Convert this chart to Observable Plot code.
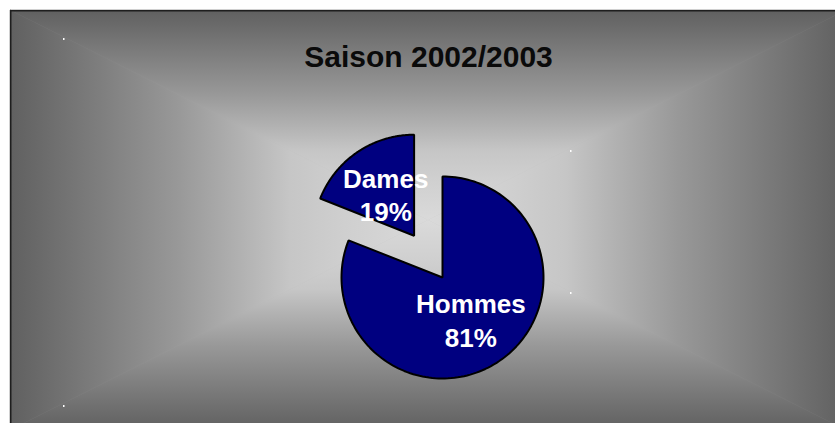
<!DOCTYPE html>
<html>
<head>
<meta charset="utf-8">
<script src="https://cdn.jsdelivr.net/npm/d3@7"></script>
<script src="https://cdn.jsdelivr.net/npm/@observablehq/plot@0.6"></script>
<style>
  html, body { margin: 0; padding: 0; background: #ffffff; }
  #chart { width: 835px; height: 423px; overflow: hidden; }
</style>
</head>
<body>
<div id="chart"></div>
<script>
// ---- data ----
const title = "Saison 2002/2003";
const categories = ["Hommes", "Dames"];
const values = [81, 19];
const explodedCategory = "Dames";

// ---- layout ----
const W = 835, H = 423;
const cx = 442, cy = 277, R = 101;   // pie centre and radius in pixels
const explodeDist = 0.5;             // in radii
const labelDist = 0.5;               // in radii
const frame = {x0: 10, y0: 10, x1: 846, y1: 430, gx: 428, gy: 220};

const total = d3.sum(values);
const rows = categories.map((c, i) => ({category: c, value: values[i]}));
const arcs = d3.pie().sort(null).value(d => d.value)(rows);

const slicePts = [];
const labels = [];
for (const a of arcs) {
  const mid = (a.startAngle + a.endAngle) / 2;
  const off = a.data.category === explodedCategory ? explodeDist : 0;
  const ox = off * Math.sin(mid), oy = off * Math.cos(mid);
  slicePts.push({category: a.data.category, x: ox, y: oy});
  const n = 160;
  for (let k = 0; k <= n; k++) {
    const t = a.startAngle + (a.endAngle - a.startAngle) * k / n;
    slicePts.push({category: a.data.category, x: ox + Math.sin(t), y: oy + Math.cos(t)});
  }
  labels.push({
    x: ox + labelDist * Math.sin(mid),
    y: oy + labelDist * Math.cos(mid),
    text: a.data.category + "\n" + Math.round(a.data.value / total * 100) + "%"
  });
}

const plot = Plot.plot({
  width: W,
  height: H,
  margin: 0,
  style: {background: "transparent", fontFamily: "'Liberation Sans', Arial, sans-serif"},
  x: {domain: [-cx / R, (W - cx) / R], axis: null},
  y: {domain: [-(H - cy) / R, cy / R], axis: null},
  marks: [
    Plot.line(slicePts, {
      x: "x", y: "y", z: "category",
      curve: "linear-closed",
      fill: "#000080", stroke: "#000000", strokeWidth: 2, strokeLinejoin: "miter"
    }),
    Plot.text(labels, {
      x: "x", y: "y", text: "text",
      fill: "#ffffff", fontSize: 26, fontWeight: "bold", lineHeight: 1.28
    }),
    Plot.text([title], {
      frameAnchor: "top", dx: 428 - W / 2, dy: 66, lineAnchor: "bottom",
      fill: "#0a0a0a", fontSize: 30, fontWeight: "bold"
    })
  ]
});

// ---- rectangular "from centre" gradient background (decoration) ----
const svg = d3.select(plot);
const bg = svg.insert("g", ":first-child");
const defs = bg.append("defs");
const stops = [[0, 96], [0.2, 124], [0.4, 152], [0.55, 177], [0.67, 198], [0.8, 207], [0.93, 214], [1, 218]];
function grad(id, x1, y1, x2, y2) {
  const g = defs.append("linearGradient").attr("id", id)
    .attr("gradientUnits", "userSpaceOnUse")
    .attr("x1", x1).attr("y1", y1).attr("x2", x2).attr("y2", y2);
  for (const [o, v] of stops) g.append("stop").attr("offset", o).attr("stop-color", `rgb(${v},${v},${v})`);
}
const f = frame;
grad("gTop", 0, f.y0, 0, f.gy);
grad("gBot", 0, f.y1, 0, f.gy);
grad("gLeft", f.x0, 0, f.gx, 0);
grad("gRight", f.x1, 0, f.gx, 0);
bg.append("rect").attr("x", f.x0).attr("y", f.y0)
  .attr("width", f.x1 - f.x0).attr("height", f.y1 - f.y0).attr("fill", "#a8a8a8");
const tri = [
  ["gTop", [[f.x0, f.y0], [f.x1, f.y0], [f.gx, f.gy]]],
  ["gBot", [[f.x0, f.y1], [f.x1, f.y1], [f.gx, f.gy]]],
  ["gLeft", [[f.x0, f.y0], [f.x0, f.y1], [f.gx, f.gy]]],
  ["gRight", [[f.x1, f.y0], [f.x1, f.y1], [f.gx, f.gy]]]
];
for (const [id, pts] of tri) {
  bg.append("polygon").attr("points", pts.map(p => p.join(",")).join(" "))
    .attr("fill", `url(#${id})`).attr("stroke", `url(#${id})`).attr("stroke-width", 0.6);
}
bg.append("rect").attr("x", f.x0 + 0.75).attr("y", f.y0 + 0.75)
  .attr("width", f.x1 - f.x0).attr("height", f.y1 - f.y0)
  .attr("fill", "none").attr("stroke", "#1e1e1e").attr("stroke-width", 1.5);
// plot-area selection specks
for (const [px, py] of [[63, 38], [63, 405], [570, 150], [570, 292]]) {
  bg.append("rect").attr("x", px).attr("y", py).attr("width", 1.5).attr("height", 2).attr("fill", "#ffffff");
}

document.getElementById("chart").appendChild(plot);
</script>
</body>
</html>
